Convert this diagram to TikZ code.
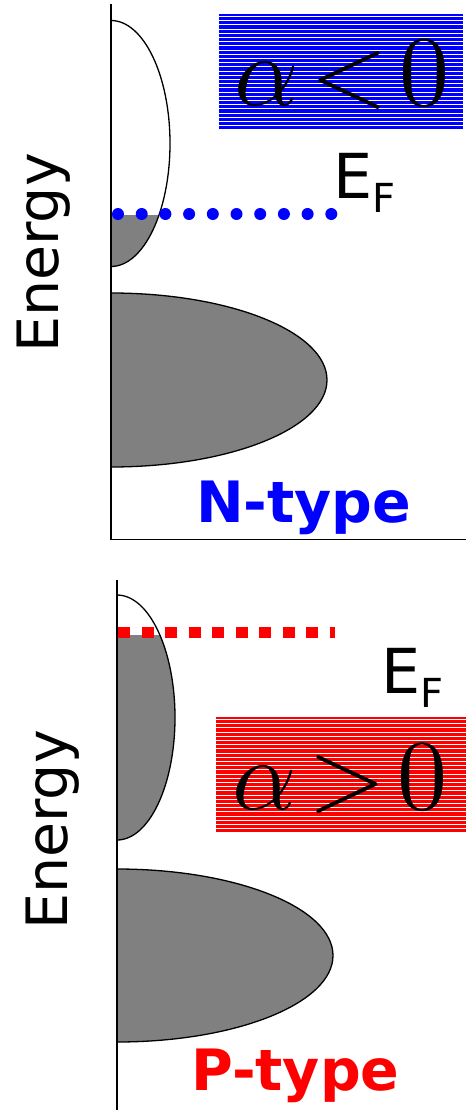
\RequirePackage{fix-cm}
\documentclass[tikz,border=0pt]{standalone}
\usepackage{graphicx}
\usepackage{fontspec}
\setmainfont{DejaVu Sans}
\newcommand{\fermilabel}{E{\fontsize{40}{40}\selectfont\raisebox{-14pt}{F}}}
\newcommand{\signtext}[1]{\scalebox{10}{$\alpha\mkern2mu{#1}\mkern2mu0$}}

\begin{document}
\begin{tikzpicture}[x=1pt,y=-1pt,
  axis/.style={line width=1.2pt},
  band/.style={draw,line width=1.3pt},
  energylabel/.style={rotate=90,anchor=base,inner sep=0pt,font=\fontsize{57}{57}\selectfont},
  fermi/.style={anchor=base west,inner sep=0pt,font=\fontsize{62}{62}\selectfont},
  typelabel/.style={anchor=base west,inner sep=0pt,font=\fontsize{57}{57}\selectfont\bfseries},
  signlabel/.style={anchor=base,inner sep=0pt}]
\useasboundingbox (0,0) rectangle (466,1110);

% N-type panel
\fill[blue] (219,14) rectangle (463,130);
\foreach \y in {16.5,20.7,...,130} \draw[white,line width=1pt] (219,\y) -- (463,\y);
\node[signlabel] (alphan) at (342,106) {\signtext{<}};
\begin{scope}
  \clip (111,0) rectangle (466,540);
  \begin{scope}
    \clip (111,143.5) ellipse [x radius=59,y radius=123];
    \fill[gray] (111,215) rectangle (200,270);
  \end{scope}
  \draw[band] (111,143.5) ellipse [x radius=59,y radius=123];
  \draw[band,fill=gray] (111,380) ellipse [x radius=216,y radius=87];
\end{scope}
\draw[blue,line width=12pt,line cap=round,dash pattern=on 0pt off 23.7pt] (118,214) -- (340,214);
\node[fermi] (efn) at (333,198) {\fermilabel};
\node[typelabel,text=blue] (ntype) at (196,522) {N-type};
\node[energylabel] (energyn) at (58,253) {Energy};
\draw[axis] (111,4) -- (111,539.5) -- (466,539.5);

% P-type panel
\fill[red] (216,717) rectangle (466,833);
\foreach \y in {719.5,723.7,...,833} \draw[white,line width=1pt] (216,\y) -- (466,\y);
\node[signlabel] (alphap) at (340,809) {\signtext{>}};
\begin{scope}
  \clip (117,580) rectangle (466,1110);
  \begin{scope}
    \clip (117,717.5) ellipse [x radius=58,y radius=122.5];
    \fill[gray] (117,635) rectangle (200,845);
  \end{scope}
  \draw[band] (117,717.5) ellipse [x radius=58,y radius=122.5];
  \draw[band,fill=gray] (117,955.5) ellipse [x radius=216,y radius=86.5];
\end{scope}
\draw[red,line width=11pt,dash pattern=on 12pt off 11.5pt] (118,632) -- (335,632);
\node[fermi] (efp) at (381,693) {\fermilabel};
\node[typelabel,text=red] (ptype) at (191,1090) {P-type};
\node[energylabel] (energyp) at (67,830) {Energy};
\draw[axis] (117,580) -- (117,1110);
\end{tikzpicture}
\end{document}
